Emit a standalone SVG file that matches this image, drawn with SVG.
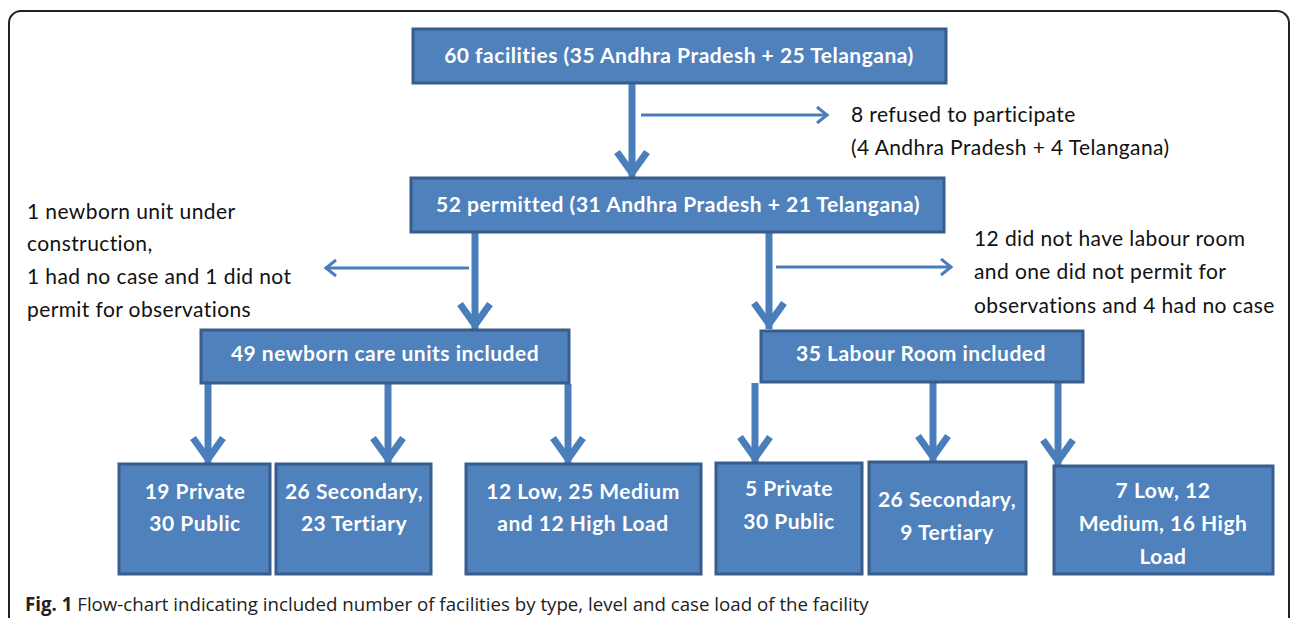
<svg xmlns="http://www.w3.org/2000/svg" width="1292" height="618" viewBox="0 0 1292 618">
<defs>
<style>
.box{fill:#4F81BD;stroke:#385D8A;stroke-width:3}
.bt{font-family:Lato,"Liberation Sans",sans-serif;font-weight:bold;font-size:21px;letter-spacing:0.5px;fill:#fff;text-anchor:middle}
.at{font-family:Lato,"Liberation Sans",sans-serif;font-size:21px;letter-spacing:0.4px;fill:#111}
.shaft{stroke:#4A7EBB;stroke-width:7;fill:none}
.thin{stroke:#4A7EBB;stroke-width:3;fill:none}
.cap{font-family:"Open Sans","Liberation Sans",sans-serif;font-size:18.7px;fill:#222}
</style>
<marker id="big" markerUnits="userSpaceOnUse" viewBox="-34 -22 40 44" refX="0" refY="0" markerWidth="40" markerHeight="44" orient="auto">
<path d="M -26 -15 L -5 0 L -26 15" fill="none" stroke="#4A7EBB" stroke-width="7" stroke-linejoin="miter" stroke-miterlimit="4"/>
</marker>
<marker id="small" markerUnits="userSpaceOnUse" viewBox="-16 -12 20 24" refX="0" refY="0" markerWidth="20" markerHeight="24" orient="auto">
<path d="M -11 -8 L -1 0 L -11 8" fill="none" stroke="#4A7EBB" stroke-width="3"/>
</marker>
</defs>
<rect x="0" y="0" width="1292" height="618" fill="#fff"/>
<rect x="9" y="11" width="1280" height="700" rx="12" fill="none" stroke="#222" stroke-width="2"/>

<g id="connectors">
<path class="shaft" d="M632 84 V178" marker-end="url(#big)"/>
<path class="thin" d="M641 115 H828" marker-end="url(#small)"/>
<path class="shaft" d="M475 233 V330" marker-end="url(#big)"/>
<path class="thin" d="M469 268 H325" marker-end="url(#small)"/>
<path class="shaft" d="M769 233 V329" marker-end="url(#big)"/>
<path class="thin" d="M776 267 H952" marker-end="url(#small)"/>
<path class="shaft" d="M208 384 V464" marker-end="url(#big)"/>
<path class="shaft" d="M388 384 V464" marker-end="url(#big)"/>
<path class="shaft" d="M568 384 V464" marker-end="url(#big)"/>
<path class="shaft" d="M755 383 V463" marker-end="url(#big)"/>
<path class="shaft" d="M933 383 V462" marker-end="url(#big)"/>
<path class="shaft" d="M1058 383 V466" marker-end="url(#big)"/>
</g>

<g id="n-60">
<rect class="box" x="413" y="29" width="533" height="54"/>
<text class="bt" x="679" y="63">60 facilities (35 Andhra Pradesh + 25 Telangana)</text>
</g>
<g id="n-refused">
<text class="at" x="851" y="122">8 refused to participate</text>
<text class="at" x="851" y="155">(4 Andhra Pradesh + 4 Telangana)</text>
</g>
<g id="n-52">
<rect class="box" x="411" y="178" width="533" height="54"/>
<text class="bt" x="678" y="212">52 permitted (31 Andhra Pradesh + 21 Telangana)</text>
</g>
<g id="n-excl-left">
<text class="at" x="27" y="219">1 newborn unit under</text>
<text class="at" x="27" y="251">construction,</text>
<text class="at" x="27" y="284">1 had no case and 1 did not</text>
<text class="at" x="27" y="317">permit for observations</text>
</g>
<g id="n-excl-right">
<text class="at" x="974" y="246">12 did not have labour room</text>
<text class="at" x="974" y="279">and one did not permit for</text>
<text class="at" x="974" y="313">observations and 4 had no case</text>
</g>
<g id="n-49">
<rect class="box" x="201" y="330" width="368" height="53"/>
<text class="bt" x="385" y="361">49 newborn care units included</text>
</g>
<g id="n-35">
<rect class="box" x="761" y="331" width="322" height="51"/>
<text class="bt" x="921" y="361">35 Labour Room included</text>
</g>
<g id="n-b1">
<rect class="box" x="119" y="464" width="151" height="110"/>
<text class="bt" x="195" y="499">19 Private</text>
<text class="bt" x="195" y="531">30 Public</text>
</g>
<g id="n-b2">
<rect class="box" x="276" y="464" width="155" height="110"/>
<text class="bt" x="354" y="499">26 Secondary,</text>
<text class="bt" x="354" y="531">23 Tertiary</text>
</g>
<g id="n-b3">
<rect class="box" x="466" y="464" width="235" height="110"/>
<text class="bt" x="583" y="499">12 Low, 25 Medium</text>
<text class="bt" x="583" y="531">and 12 High Load</text>
</g>
<g id="n-b4">
<rect class="box" x="716" y="463" width="146" height="111"/>
<text class="bt" x="789" y="496">5 Private</text>
<text class="bt" x="789" y="529">30 Public</text>
</g>
<g id="n-b5">
<rect class="box" x="869" y="462" width="157" height="112"/>
<text class="bt" x="947" y="507">26 Secondary,</text>
<text class="bt" x="947" y="540">9 Tertiary</text>
</g>
<g id="n-b6">
<rect class="box" x="1054" y="466" width="219" height="108"/>
<text class="bt" x="1163" y="498">7 Low, 12</text>
<text class="bt" x="1163" y="531">Medium, 16 High</text>
<text class="bt" x="1163" y="564">Load</text>
</g>
<g id="caption">
<text class="cap" x="25" y="611"><tspan font-weight="bold">Fig. 1</tspan> Flow-chart indicating included number of facilities by type, level and case load of the facility</text>
</g>
</svg>
